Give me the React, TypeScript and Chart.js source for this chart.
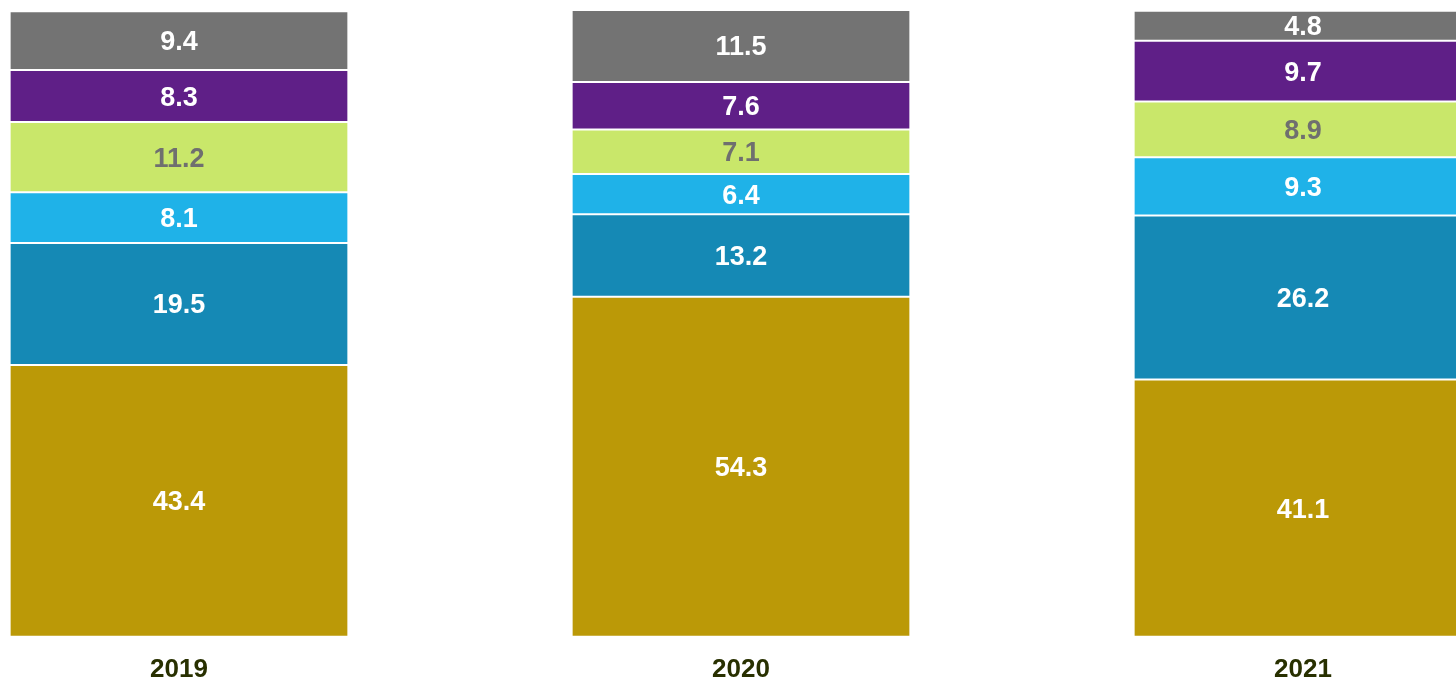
import React, { useEffect, useRef } from "react";
import { Chart, registerables } from "chart.js";

Chart.register(...registerables);

const years = ["2019", "2020", "2021"];
const seriesGold = [43.4, 54.3, 41.1];
const seriesTeal = [19.5, 13.2, 26.2];
const seriesLightBlue = [8.1, 6.4, 9.3];
const seriesLightGreen = [11.2, 7.1, 8.9];
const seriesPurple = [8.3, 7.6, 9.7];
const seriesGray = [9.4, 11.5, 4.8];

const colors = ["#bb9907", "#1589b5", "#1fb2e8", "#c9e76a", "#5f1f87", "#737373"];
const labelColors = ["#ffffff", "#ffffff", "#ffffff", "#6f6f6f", "#ffffff", "#ffffff"];

const valueLabelPlugin = {
  id: "valueLabels",
  afterDatasetsDraw(chart: any) {
    const ctx = chart.ctx;
    ctx.save();
    ctx.font = "bold 27px 'Liberation Sans', Arial, sans-serif";
    ctx.textAlign = "center";
    ctx.textBaseline = "middle";
    chart.data.datasets.forEach((ds: any, di: number) => {
      const meta = chart.getDatasetMeta(di);
      meta.data.forEach((el: any, i: number) => {
        const v = ds.data[i];
        const cy = (el.y + el.base) / 2;
        ctx.fillStyle = labelColors[di];
        ctx.fillText(v.toFixed(1), el.x, cy + 2);
      });
    });
    ctx.restore();
  },
};

export default function App() {
  const ref = useRef<HTMLCanvasElement>(null);
  useEffect(() => {
    const seriesList = [seriesGold, seriesTeal, seriesLightBlue, seriesLightGreen, seriesPurple, seriesGray];
    const chart = new Chart(ref.current!, {
      type: "bar",
      data: {
        labels: years,
        datasets: seriesList.map((s, i) => ({
          data: s,
          backgroundColor: colors[i],
          borderColor: "#ffffff",
          borderWidth: { top: 1, bottom: 1, left: 0, right: 0 },
          borderSkipped: false,
          barPercentage: 0.6,
          categoryPercentage: 1,
        })),
      },
      options: {
        animation: false,
        responsive: false,
        maintainAspectRatio: false,
        layout: { padding: { top: 10, left: 0, right: 0, bottom: 0 } },
        plugins: { legend: { display: false }, tooltip: { enabled: false } },
        scales: {
          x: {
            stacked: true,
            grid: { display: false, drawTicks: false },
            border: { display: false },
            ticks: {
              color: "#283000",
              font: { family: "'Liberation Sans', Arial, sans-serif", size: 26, weight: "bold" },
              padding: 17,
            },
          },
          y: {
            stacked: true,
            display: false,
            min: 0,
            max: 100.1,
          },
        },
      },
      plugins: [valueLabelPlugin],
    });
    return () => chart.destroy();
  }, []);
  return (
    <div style={{ position: "fixed", left: 0, top: 0, width: 1456, height: 681, overflow: "hidden", background: "#fff" }}>
      <canvas ref={ref} width={1686} height={702} style={{ position: "absolute", left: -102.5, top: 0, width: 1686, height: 702 }} />
    </div>
  );
}
